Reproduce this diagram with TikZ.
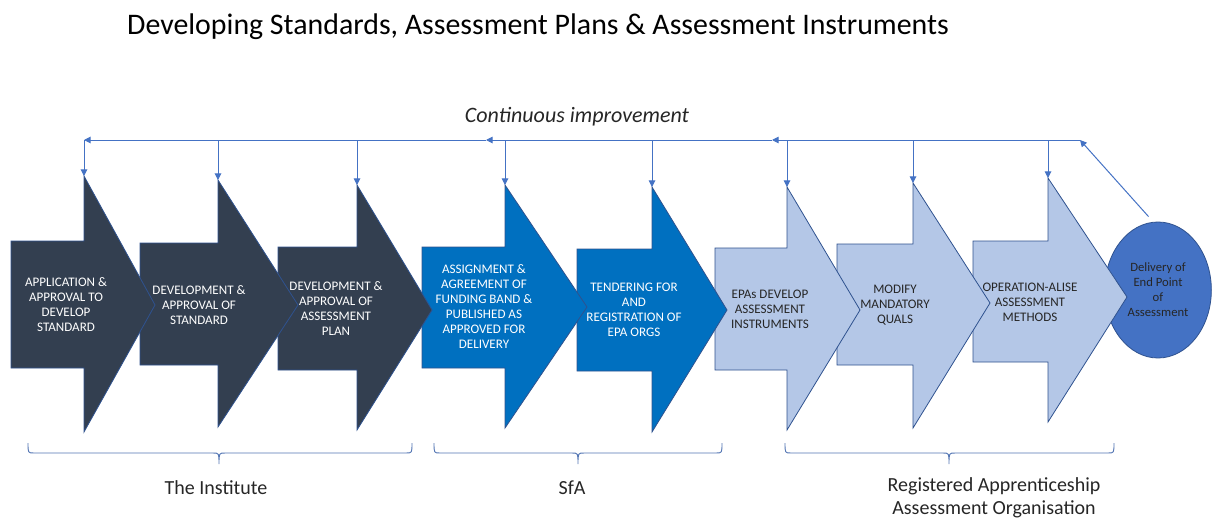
\documentclass[tikz,border=0pt]{standalone}
\usepackage{fontspec}
\setmainfont{Carlito}
\usepackage{tikz}
\usetikzlibrary{arrows.meta, shapes.geometric}
\definecolor{stdark}{HTML}{333F50}
\definecolor{stblue}{HTML}{0070C0}
\definecolor{stlight}{HTML}{B4C7E7}
\definecolor{stedge}{HTML}{2F528F}
\definecolor{stline}{HTML}{4472C4}
\definecolor{sttext}{HTML}{262626}

\begin{document}
\begin{tikzpicture}[x=0.75pt, y=-0.75pt,
  stage/.style={draw=stedge, line width=0.6pt, line join=miter},
  lbl/.style={align=center, font=\fontsize{9.8}{11.25}\selectfont, inner sep=0pt},
  feed/.style={-{Triangle[length=5pt, width=5pt]}, stline, line width=0.75pt},
  brace/.style={draw=stline!75!gray, line width=0.7pt},
  group/.style={font=\fontsize{15}{17.3}\selectfont, text=sttext, align=center}
]
  \useasboundingbox (0,0) rectangle (1212,521);

  \node[font=\fontsize{22.4}{26}\selectfont] (title) at (538,27) {Developing Standards, Assessment Plans \& Assessment Instruments};
  \node[font=\fontsize{16.5}{20}\selectfont\itshape, text=sttext] (cimp) at (577,117) {Continuous improvement};

  % end point sits under the last arrow tip
  \node[ellipse, fill=stline, draw=stedge, line width=0.6pt, minimum width=80pt, minimum height=102pt,
        lbl, font=\fontsize{9.5}{11.25}\selectfont, text=sttext] (deliv) at (1158,290) {Delivery of\\End Point\\of\\Assessment};

  % stage arrows, right to left so each tip lies over the next body
  \foreach \n/\col/\xa/\ya/\yb/\xb/\yc/\yd/\xc/\ye in {
      8/stlight/973/241/362/1048/178/422/1127/297,
      7/stlight/837/244/365/913/183/428/990/303,
      6/stlight/715/248/370/787/187/430/860/310,
      5/stblue/577/249/371/652/187/432/727/310,
      4/stblue/422/247/368/505/185/428/587/307,
      3/stdark/278/247/370/357/185/430/432/310,
      2/stdark/140/243/365/218/180/427/298/305,
      1/stdark/11/241/368/84/176/432/155/305}
  {
    \draw[stage, fill=\col] (\xa,\ya) -- (\xb,\ya) -- (\xb,\yc) -- (\xc,\ye) -- (\xb,\yd) -- (\xb,\yb) -- (\xa,\yb) -- cycle;
    \coordinate (head\n) at (\xb,\yc);
  }

  \node[lbl, text=white] (s1) at (66,305) {APPLICATION \&\\APPROVAL TO\\DEVELOP\\STANDARD};
  \node[lbl, text=white] (s2) at (199,305) {DEVELOPMENT \&\\APPROVAL OF\\STANDARD};
  \node[lbl, text=white] (s3) at (336,309) {DEVELOPMENT \&\\APPROVAL OF\\ASSESSMENT\\PLAN};
  \node[lbl, text=white] (s4) at (484,307) {ASSIGNMENT \&\\AGREEMENT OF\\FUNDING BAND \&\\PUBLISHED AS\\APPROVED FOR\\DELIVERY};
  \node[lbl, text=white] (s5) at (634,310) {TENDERING FOR\\AND\\REGISTRATION OF\\EPA ORGS};
  \node[lbl, text=sttext] (s6) at (770,309) {EPAs DEVELOP\\ASSESSMENT\\INSTRUMENTS};
  \node[lbl, text=sttext] (s7) at (895,305) {MODIFY\\MANDATORY\\QUALS};
  \node[lbl, text=sttext] (s8) at (1030,302) {OPERATION-ALISE\\ASSESSMENT\\METHODS};

  % feedback loop
  \coordinate (loop0) at (84,140);
  \coordinate (loop1) at (486,140);
  \coordinate (loop2) at (772,140);
  \coordinate (loop3) at (1080,140);
  \draw[feed, shorten <=5pt] (deliv.north) ++(-5,0) -- (loop3);
  \draw[feed] (loop3) -- (loop2);
  \draw[feed] (loop2) -- (loop1);
  \draw[feed] (loop1) -- (loop0);
  \foreach \n in {1,...,8}
    \draw[feed] (head\n |- loop0) -- (head\n);

  % groups
  \foreach \a/\m/\b in {28/219/412, 434/578/722, 785/949/1114}
    \draw[brace] (\a,443) .. controls (\a,453) .. (\a+6,453) -- (\m-6,453) .. controls (\m,453) .. (\m,464)
      .. controls (\m,453) .. (\m+6,453) -- (\b-6,453) .. controls (\b,453) .. (\b,443);
  \node[group] (inst) at (216,488) {The Institute};
  \node[group] (sfa) at (572,488) {SfA};
  \node[group] (rapa) at (994,498) {Registered Apprenticeship\\Assessment Organisation};
\end{tikzpicture}
\end{document}
